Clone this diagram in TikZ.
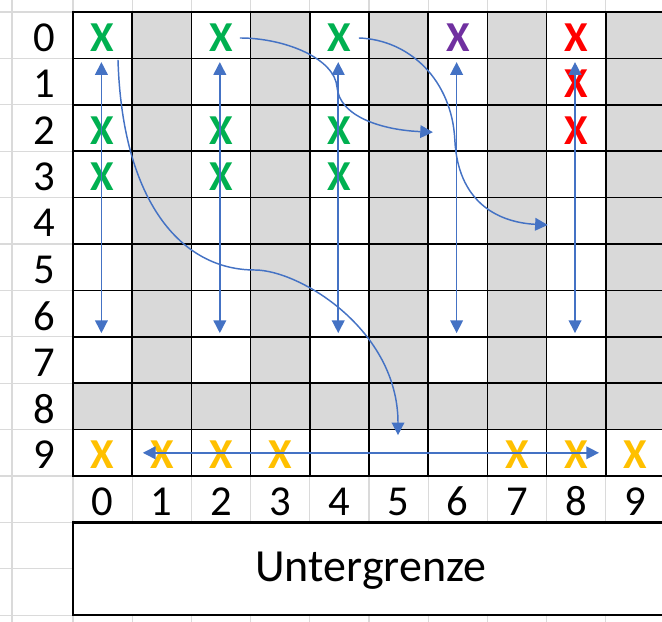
\documentclass[tikz,border=0pt]{standalone}
\usepackage{fontspec}
\setmainfont{Carlito}
\usetikzlibrary{arrows.meta}
\definecolor{cellgrey}{HTML}{D9D9D9}
\definecolor{sheetgrey}{HTML}{DADADA}
\definecolor{arrowblue}{HTML}{4472C4}
\definecolor{xgreen}{HTML}{00B050}
\definecolor{xpurple}{HTML}{7030A0}
\definecolor{xred}{HTML}{FF0000}
\definecolor{xyellow}{HTML}{FFC000}

\begin{document}
\begin{tikzpicture}[x=44.4pt, y=-34.8pt,
  numtext/.style={font=\fontsize{32}{38}\selectfont, inner sep=0pt},
  xmark/.style={font=\fontsize{32}{38}\selectfont\bfseries, inner sep=0pt},
  thinline/.style={black, line width=1.2pt},
  border/.style={black, line width=1.9pt},
  sheet/.style={sheetgrey, line width=0.8pt},
  flow/.style={arrowblue, line width=1.1pt, -{Triangle[length=9.5pt,width=9.5pt]}},
  twoway/.style={arrowblue, line width=1.1pt, {Triangle[length=9.5pt,width=9.5pt]}-{Triangle[length=9.5pt,width=9.5pt]}}]
\clip (-1.2331,-0.2586) rectangle (9.9493,13.125);

% Sheet grid outside the table
\foreach \r in {0,...,13} \draw[sheet] (-1.3,\r) -- (0,\r);
\draw[sheet] (-1.03,-0.3) -- (-1.03,13.2);
\foreach \c in {0,...,10} {
  \draw[sheet] (\c,-0.3) -- (\c,0);
  \draw[sheet] (\c,10) -- (\c,11);
  \draw[sheet] (\c,13) -- (\c,13.2);
}

% Grey cells
\foreach \c in {1,3,5,7,9} \fill[cellgrey] (\c,0) rectangle (\c+1,8);
\fill[cellgrey] (0,8) rectangle (10,9);

% Table
\foreach \c in {1,...,9} \draw[thinline] (\c,0) -- (\c,10);
\foreach \r in {1,...,9} \draw[thinline] (0,\r) -- (10,\r);
\draw[border] (0,0) rectangle (10,10);

% Row and column numbers
\foreach \r in {0,...,9} \node[numtext] (row\r) at (-0.49,\r+0.55) {\r};
\foreach \c in {0,...,9} \node[numtext] (col\c) at (\c+0.5,10.55) {\c};

% Lower bound
\draw[border] (0,11) rectangle (10,13);
\node[numtext, font=\fontsize{34.5}{40}\selectfont] (ug) at (5.03,12.05) {Untergrenze};

% Marks
\foreach \c/\r in {0/0,0/2,0/3,2/0,2/2,2/3,4/0,4/2,4/3}
  \node[xmark, text=xgreen] (g\c\r) at (\c+0.5,\r+0.55) {X};
\node[xmark, text=xpurple] (p60) at (6.5,0.55) {X};
\foreach \r in {0,1,2} \node[xmark, text=xred] (r8\r) at (8.5,\r+0.55) {X};
\foreach \c in {0,1,2,3,7,8,9} \node[xmark, text=xyellow] (y\c9) at (\c+0.5,9.55) {X};

% Columns up and down
\foreach \c in {0,2,4,6,8} {
  \coordinate (top\c) at (\c+0.48,1.08);
  \coordinate (bot\c) at (\c+0.48,6.92);
  \draw[twoway] (top\c) -- (bot\c);
}

% Bottom row
\coordinate (left9) at (1.18,9.5);
\coordinate (right9) at (8.885,9.5);
\draw[twoway] (left9) -- (right9);

% Moves
\coordinate (a0) at (0.76,1.03);
\coordinate (a1) at (3.07,5.56);
\coordinate (a2) at (5.49,9.12);
\draw[flow] (a0) .. controls (0.83,4.05) and (1.81,5.56) .. (a1)
  .. controls (3.83,5.56) and (5.49,6.85) .. (a2);

\coordinate (b0) at (2.82,0.56);
\coordinate (b1) at (4.46,1.62);
\coordinate (b2) at (6.08,2.59);
\draw[flow] (b0) .. controls (3.58,0.56) and (4.42,1.0) .. (b1)
  .. controls (4.50,2.24) and (5.19,2.54) .. (b2);

\coordinate (c0) at (4.83,0.56);
\coordinate (c1) at (6.45,2.76);
\coordinate (c2) at (8.02,4.59);
\draw[flow] (c0) .. controls (5.69,0.60) and (6.40,1.47) .. (c1)
  .. controls (6.50,4.05) and (7.13,4.53) .. (c2);
\end{tikzpicture}
\end{document}
